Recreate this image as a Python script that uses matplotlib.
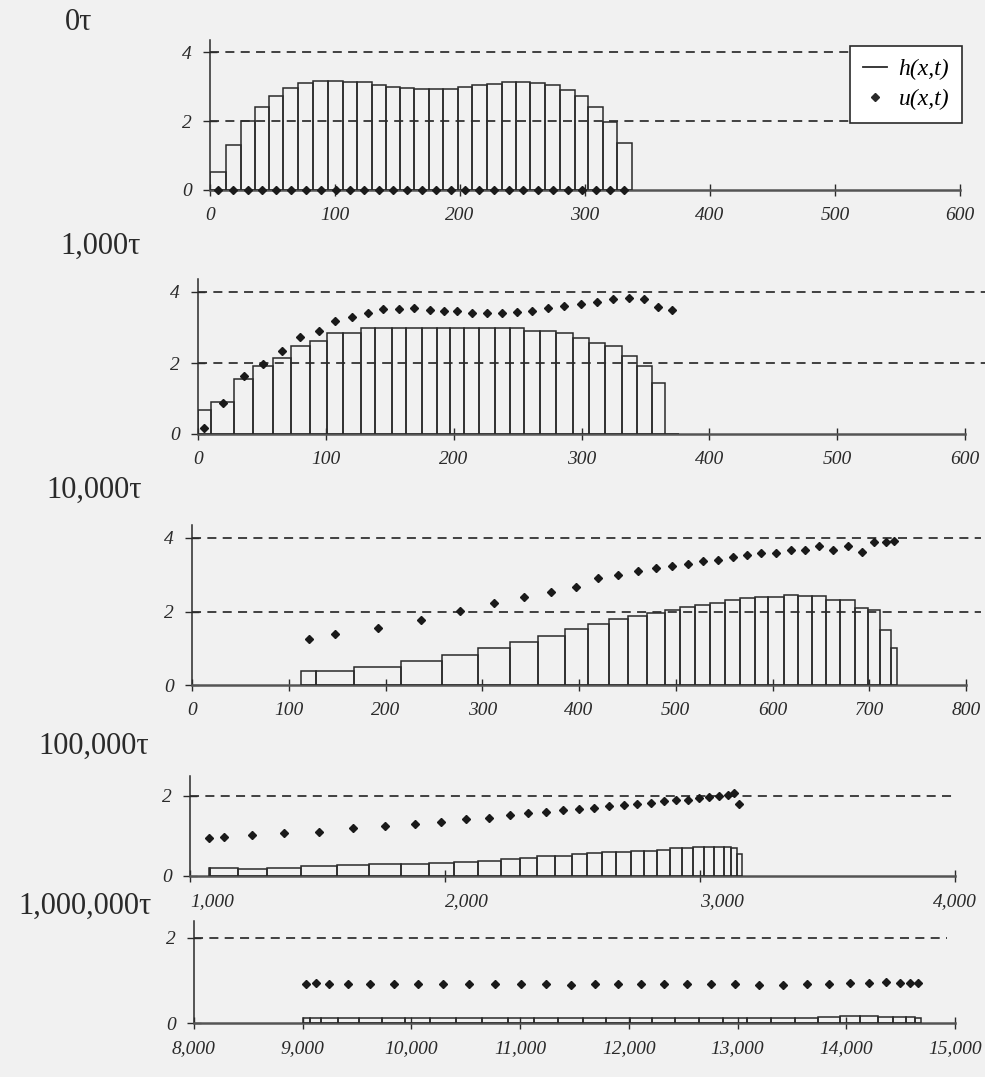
import numpy as np
import matplotlib
matplotlib.use("Agg")
import matplotlib.pyplot as plt
import matplotlib.transforms as mtransforms
from matplotlib.lines import Line2D
from matplotlib.ticker import FixedLocator, FuncFormatter

# DATA
# panel 0 tau
p1_edges = [0, 12.8, 24.5, 36.0, 47.5, 58.7, 70.7, 82.7, 94.7, 106.7, 117.3, 129.3, 140.8, 152.0, 163.5,
            175.5, 186.7, 198.1, 209.3, 221.3, 233.3, 244.8, 256.0, 268.0, 280.0, 292.0, 302.7, 314.7,
            325.3, 337.3]
p1_h = [0.51, 1.29, 2.00, 2.41, 2.73, 2.95, 3.10, 3.16, 3.16, 3.14, 3.12, 3.04, 3.00, 2.95, 2.93,
        2.93, 2.93, 3.00, 3.04, 3.06, 3.12, 3.12, 3.10, 3.04, 2.91, 2.73, 2.41, 1.97, 1.37]
p1_u = [0.0] * 29

# panel 1,000 tau
p2_edges = [0, 9.9, 28.5, 43.3, 58.4, 72.5, 87.6, 101.2, 113.7, 127.3, 138.5, 151.6, 162.8, 175.6,
            187.3, 197.3, 208.2, 220.2, 232.5, 243.7, 255.2, 267.7, 280.2, 293.2, 305.5, 318.5, 331.5,
            343.3, 355.0, 365.4, 376.0]
p2_h = [0.68, 0.90, 1.55, 1.92, 2.14, 2.49, 2.63, 2.84, 2.84, 2.99, 2.99, 2.99, 2.99, 2.99, 2.99,
        2.99, 2.99, 2.99, 2.99, 2.99, 2.91, 2.91, 2.84, 2.71, 2.57, 2.47, 2.19, 1.92, 1.44, 0.0]
p2_u = [0.17, 0.87, 1.64, 1.98, 2.34, 2.73, 2.91, 3.19, 3.30, 3.42, 3.52, 3.52, 3.54, 3.50, 3.47,
        3.47, 3.40, 3.40, 3.40, 3.44, 3.47, 3.54, 3.61, 3.66, 3.72, 3.81, 3.84, 3.81, 3.59, 3.50]

# panel 10,000 tau
p3_edges = [112.6, 128.6, 167.9, 215.6, 258.3, 295.8, 328.9, 357.9, 385.2, 409.1, 430.6, 451.0,
            470.5, 488.6, 504.6, 520.0, 535.3, 551.4, 566.0, 581.4, 595.7, 611.4, 626.4, 641.1,
            655.4, 670.1, 685.5, 699.1, 711.0, 722.9, 728.8]
p3_h = [0.37, 0.37, 0.48, 0.65, 0.81, 1.02, 1.17, 1.34, 1.53, 1.66, 1.79, 1.89, 1.97, 2.05, 2.13,
        2.18, 2.24, 2.30, 2.37, 2.40, 2.40, 2.45, 2.42, 2.42, 2.30, 2.30, 2.09, 2.03, 1.49, 1.00]
p3_u = [1.24, 1.38, 1.56, 1.76, 2.02, 2.23, 2.39, 2.54, 2.68, 2.90, 3.00, 3.10, 3.19, 3.24, 3.30,
        3.38, 3.41, 3.48, 3.53, 3.58, 3.60, 3.67, 3.67, 3.77, 3.66, 3.79, 3.63, 3.90, 3.89, 3.93]

# panel 100,000 tau
p4_edges = [1072.6, 1080.0, 1189.0, 1300.8, 1435.0, 1576.6, 1703.4, 1825.6, 1937.4, 2034.4, 2128.3,
            2217.7, 2292.3, 2362.4, 2429.5, 2496.6, 2556.2, 2616.0, 2672.5, 2727.7, 2779.8, 2832.0,
            2884.3, 2928.9, 2973.7, 3015.6, 3055.7, 3093.0, 3122.8, 3145.1, 3164.7]
p4_h = [0.19, 0.19, 0.17, 0.21, 0.26, 0.27, 0.29, 0.29, 0.33, 0.35, 0.38, 0.43, 0.46, 0.50, 0.50,
        0.55, 0.57, 0.60, 0.60, 0.62, 0.62, 0.65, 0.70, 0.71, 0.73, 0.73, 0.73, 0.73, 0.71, 0.55]
p4_u = [0.95, 0.98, 1.02, 1.07, 1.10, 1.19, 1.24, 1.30, 1.35, 1.42, 1.46, 1.52, 1.57, 1.59, 1.65,
        1.68, 1.71, 1.76, 1.78, 1.81, 1.83, 1.88, 1.90, 1.90, 1.95, 1.97, 2.00, 2.02, 2.08, 1.81]

# panel 1,000,000 tau
p5_edges = [9000, 9069, 9168, 9323, 9515, 9727, 9945, 10173, 10408, 10648, 10890, 11124, 11352,
            11576, 11794, 12008, 12217, 12428, 12647, 12868, 13086, 13304, 13525, 13744, 13946,
            14126, 14291, 14432, 14547, 14630, 14690]
p5_h = [0.12, 0.12, 0.12, 0.12, 0.12, 0.12, 0.12, 0.12, 0.12, 0.12, 0.12, 0.12, 0.12, 0.12, 0.12,
        0.12, 0.12, 0.12, 0.12, 0.12, 0.12, 0.12, 0.12, 0.13, 0.16, 0.16, 0.15, 0.14, 0.13, 0.12]
p5_u = [0.92, 0.93, 0.92, 0.91, 0.92, 0.91, 0.92, 0.91, 0.91, 0.92, 0.91, 0.91, 0.90, 0.91, 0.91,
        0.91, 0.91, 0.91, 0.91, 0.91, 0.90, 0.90, 0.91, 0.92, 0.95, 0.95, 0.96, 0.95, 0.95, 0.95]

titles = ["0\u03c4", "1,000\u03c4", "10,000\u03c4", "100,000\u03c4", "1,000,000\u03c4"]
xticks = [np.arange(0, 601, 100), np.arange(0, 601, 100), np.arange(0, 801, 100),
          np.arange(1000, 4001, 1000), np.arange(8000, 15001, 1000)]
yticks = [[0, 2, 4], [0, 2, 4], [0, 2, 4], [0, 2], [0, 2]]

# LAYOUT (pixels): x0, x1, baseline, px per unit, ytop, title x, title y, dash end, label shift
layout = [
    (210, 960, 190, 34.5, 4.35, 65, 22, 1.0, 0),
    (198, 965, 434, 35.5, 4.37, 60, 246, 1.03, 0),
    (192, 966, 685, 36.75, 4.35, 46, 490, 1.02, 0),
    (190, 955, 876, 40.0, 2.5, 38, 746, 1.0, 22),
    (194, 955, 1023, 42.5, 2.4, 18, 906, 0.99, 0),
]

W, H = 985, 1077
ink = "#2a2a2a"
bg = "#f1f1f1"

plt.rcParams["font.family"] = ["Liberation Serif", "DejaVu Serif"]

fig = plt.figure(figsize=(W / 100, H / 100), dpi=100, facecolor=bg)

panels = [(p1_edges, p1_h, p1_u), (p2_edges, p2_h, p2_u), (p3_edges, p3_h, p3_u),
          (p4_edges, p4_h, p4_u), (p5_edges, p5_h, p5_u)]

fmt = FuncFormatter(lambda v, pos: "{:,}".format(int(v)))

for i, (edges, h, u) in enumerate(panels):
    x0, x1, base, unit, ytop, tx, ty, dash_end, shift = layout[i]
    top = base - ytop * unit
    ax = fig.add_axes([x0 / W, 1 - base / H, (x1 - x0) / W, (base - top) / H])
    ax.patch.set_alpha(0)

    edges = np.array(edges, dtype=float)
    widths = np.diff(edges)
    centers = edges[:-1] + widths / 2

    ax.bar(edges[:-1], h, width=widths, align="edge", fill=False,
           edgecolor=ink, linewidth=1.1, zorder=3)
    ax.plot(centers, u, linestyle="none", marker="D", markersize=4.4,
            color="#1a1a1a", clip_on=False, zorder=4)

    for yv in yticks[i][1:]:
        ax.axhline(yv, xmax=dash_end, color="#333333", linewidth=1.3,
                   linestyle=(0, (5, 3.5)), zorder=1, clip_on=False)

    xt = xticks[i]
    ax.set_xlim(xt[0], xt[-1])
    ax.set_ylim(0, ytop)

    ax.spines["top"].set_visible(False)
    ax.spines["right"].set_visible(False)
    ax.spines["left"].set_color(ink)
    ax.spines["left"].set_linewidth(1.1)
    ax.spines["bottom"].set_color("#555555")
    ax.spines["bottom"].set_linewidth(1.8)

    ax.xaxis.set_major_locator(FixedLocator(xt))
    ax.xaxis.set_major_formatter(fmt)
    ax.yaxis.set_major_locator(FixedLocator(yticks[i]))
    ax.tick_params(axis="x", direction="inout", length=8, width=1.0, color=ink,
                   labelsize=14, pad=8, labelcolor=ink)
    ax.tick_params(axis="y", direction="inout", length=10, width=1.0, color=ink,
                   labelsize=14, pad=8, labelcolor=ink)
    for lab in ax.get_xticklabels() + ax.get_yticklabels():
        lab.set_fontstyle("italic")
    if shift:
        offset = mtransforms.ScaledTranslation(shift / 100, 0, fig.dpi_scale_trans)
        for lab in ax.get_xticklabels()[:-1]:
            lab.set_transform(lab.get_transform() + offset)

    fig.text(tx / W, 1 - ty / H, titles[i], fontsize=22, color=ink, ha="left", va="center")

    if i == 0:
        handles = [Line2D([], [], color=ink, linewidth=1.3),
                   Line2D([], [], linestyle="none", marker="D", markersize=4, color=ink)]
        leg = ax.legend(handles, ["h(x,t)", "u(x,t)"], loc="upper right",
                        bbox_to_anchor=(1.003, 0.96), borderaxespad=0, frameon=True,
                        fancybox=False, framealpha=1, handlelength=1.0, handletextpad=0.5,
                        borderpad=0.55, labelspacing=0.35, prop={"style": "italic", "size": 17})
        leg.set_zorder(10)
        leg.get_frame().set_edgecolor(ink)
        leg.get_frame().set_linewidth(1.2)
        leg.get_frame().set_facecolor("white")

fig.savefig("out.png", dpi=100, facecolor=bg)
